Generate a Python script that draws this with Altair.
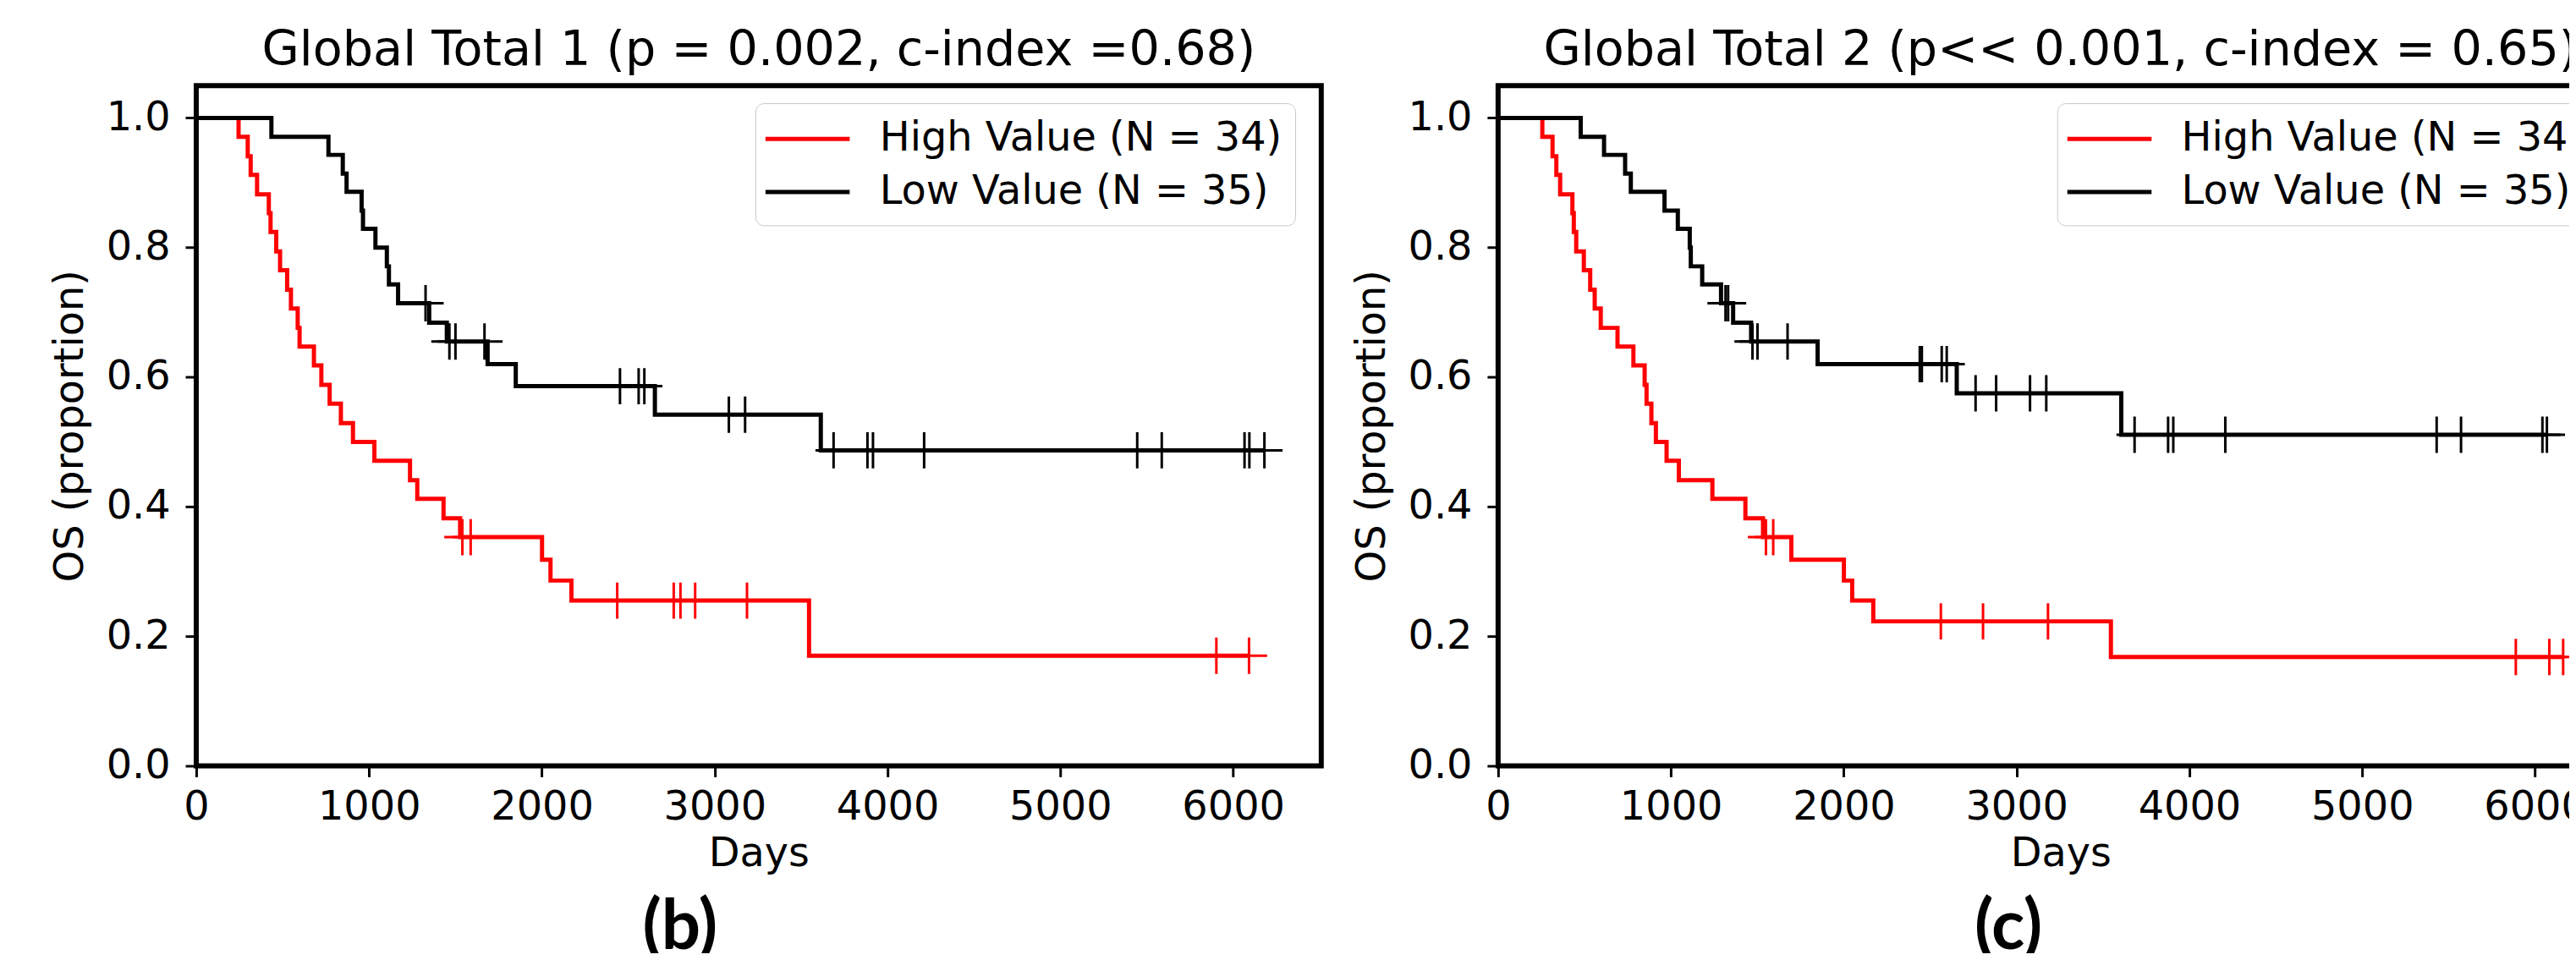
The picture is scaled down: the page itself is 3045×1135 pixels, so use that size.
import altair as alt
import pandas as pd

GROUPS = ["High Value (N = 34)", "Low Value (N = 35)"]
COLORS = ["#ff0000", "#000000"]
XTICKS = [0, 1000, 2000, 3000, 4000, 5000, 6000]
YTICKS = [0.0, 0.2, 0.4, 0.6, 0.8, 1.0]

# ---- Panel (b): Global Total 1 ----
b_high_days = [0, 245, 298, 315, 352, 420, 430, 463, 485, 526, 548, 587, 598, 681, 724, 772,
               837, 907, 1031, 1237, 1279, 1431, 1527, 2001, 2050, 2171, 3546, 6092]
b_high_surv = [1.0, 0.971, 0.941, 0.912, 0.882, 0.853, 0.824, 0.794, 0.765, 0.735, 0.706, 0.676,
               0.647, 0.618, 0.588, 0.559, 0.529, 0.500, 0.471, 0.441, 0.412, 0.382, 0.353, 0.318,
               0.286, 0.255, 0.170, 0.170]
b_high_cens = [1540, 1588, 2436, 2763, 2802, 2887, 3187, 5903, 6092]

b_low_days = [0, 435, 765, 848, 870, 957, 965, 1037, 1103, 1115, 1168, 1348, 1450, 1686, 1849,
              2654, 3614, 6181]
b_low_surv = [1.0, 0.971, 0.943, 0.914, 0.886, 0.857, 0.829, 0.800, 0.771, 0.743, 0.714, 0.684,
              0.655, 0.620, 0.586, 0.542, 0.487, 0.487]
b_low_cens = [1327, 1465, 1500, 1668, 2452, 2560, 2593, 3082, 3176, 3688, 3884, 3916, 4212,
              5445, 5587, 6066, 6094, 6181]

# ---- Panel (c): Global Total 2 ----
c_high_days = [0, 256, 315, 337, 359, 430, 438, 452, 496, 533, 559, 594, 691, 783, 848, 859, 887,
               913, 975, 1046, 1240, 1431, 1533, 1697, 2001, 2049, 2171, 3546, 6163]
c_high_surv = [1.0, 0.971, 0.941, 0.912, 0.882, 0.853, 0.824, 0.794, 0.765, 0.735, 0.706, 0.676,
               0.647, 0.618, 0.588, 0.559, 0.529, 0.500, 0.471, 0.441, 0.412, 0.382, 0.353, 0.318,
               0.286, 0.255, 0.223, 0.168, 0.168]
c_high_cens = [1550, 1592, 2562, 2806, 3182, 5889, 6083, 6163]

c_low_days = [0, 478, 613, 735, 768, 963, 1040, 1109, 1115, 1181, 1290, 1360, 1464, 1849, 2654,
              3606, 6069]
c_low_surv = [1.0, 0.971, 0.943, 0.914, 0.886, 0.857, 0.829, 0.800, 0.771, 0.743, 0.714, 0.684,
              0.655, 0.620, 0.575, 0.511, 0.511]
c_low_cens = [1316, 1331, 1472, 1501, 1675, 2440, 2452, 2567, 2596, 2763, 2882, 3078, 3172, 3683,
              3877, 3907, 4208, 5431, 5572, 6043, 6069]

TITLE_B = "Global Total 1 (p = 0.002, c-index =0.68)"
TITLE_C = "Global Total 2 (p<< 0.001, c-index = 0.65)"

W, H = 1336, 808
XMAX = 6510
FONT = "DejaVu Sans"


def steps_df(days, surv, group):
    return pd.DataFrame({"days": days, "surv": surv, "group": group})


def cens_df(cens, days, surv, group):
    levels = []
    for c in cens:
        s = surv[0]
        for d, v in zip(days, surv):
            if d <= c:
                s = v
        levels.append(s)
    return pd.DataFrame({"days": cens, "surv": levels, "group": group})


def panel(title, label, label_x, high, low):
    lines = pd.concat([steps_df(high[0], high[1], GROUPS[0]),
                       steps_df(low[0], low[1], GROUPS[1])])
    cens = pd.concat([cens_df(high[2], high[0], high[1], GROUPS[0]),
                      cens_df(low[2], low[0], low[1], GROUPS[1])])
    axis_common = dict(labelFontSize=48, titleFontSize=48, labelFont=FONT, titleFont=FONT,
                       labelColor="black", titleColor="black", tickColor="black",
                       tickSize=13, tickWidth=3, domain=False, grid=False,
                       titleFontWeight="normal", labelFlush=False, labelOverlap=False)
    x = alt.X("days:Q", scale=alt.Scale(domain=[0, XMAX], nice=False, zero=False),
              axis=alt.Axis(title="Days", values=XTICKS, format="d", labelPadding=12,
                            titlePadding=8, **axis_common))
    y = alt.Y("surv:Q", scale=alt.Scale(domain=[0, 1.05], nice=False, zero=False),
              axis=alt.Axis(title="OS (proportion)", values=YTICKS, format=".1f",
                            labelPadding=18, titlePadding=18, **axis_common))
    cscale = alt.Scale(domain=GROUPS, range=COLORS)
    legend = alt.Legend(title=None, orient="none", legendX=664, legendY=21,
                        symbolType="M-2,0L2,0", symbolSize=2500, symbolStrokeWidth=5,
                        symbolOffset=19.5, labelOffset=58, labelFontSize=48, labelFont=FONT,
                        labelColor="black", labelLimit=1000, padding=15, rowPadding=11,
                        strokeColor="#c8c8c8", fillColor="white", cornerRadius=10)
    line = alt.Chart(lines).mark_line(interpolate="step-after", strokeWidth=5).encode(
        x=x, y=y, color=alt.Color("group:N", scale=cscale, legend=legend))
    marks = alt.Chart(cens).mark_point(shape="M-1,0L1,0M0,-1L0,1", size=1850, strokeWidth=3,
                                       filled=False, opacity=1).encode(
        x=x, y=y, color=alt.Color("group:N", scale=cscale, legend=None))
    lab = alt.Chart(pd.DataFrame({"t": [label]})).mark_text(
        fontSize=82, fontWeight="bold", font="Lato", baseline="alphabetic", align="center",
        color="black").encode(text="t:N", x=alt.value(label_x), y=alt.value(1026))
    return alt.layer(line, marks, lab).properties(
        width=W, height=H,
        title=alt.TitleParams(title, fontSize=57.5, font=FONT, fontWeight="normal", color="black",
                              anchor="middle", frame="group", offset=12))


pb = panel(TITLE_B, "(b)", 574.5, (b_high_days, b_high_surv, b_high_cens),
           (b_low_days, b_low_surv, b_low_cens))
pc = panel(TITLE_C, "(c)", 606, (c_high_days, c_high_surv, c_high_cens),
           (c_low_days, c_low_surv, c_low_cens))

chart = alt.hconcat(pb, pc, spacing=30).resolve_legend(color="independent").properties(
    padding={"left": 48, "top": 17, "right": -67, "bottom": -17}
).configure(font=FONT, background="white",
            view=alt.ViewConfig(stroke="black", strokeWidth=6))

chart.save("out.html", embed_options={"renderer": "svg", "actions": False})
